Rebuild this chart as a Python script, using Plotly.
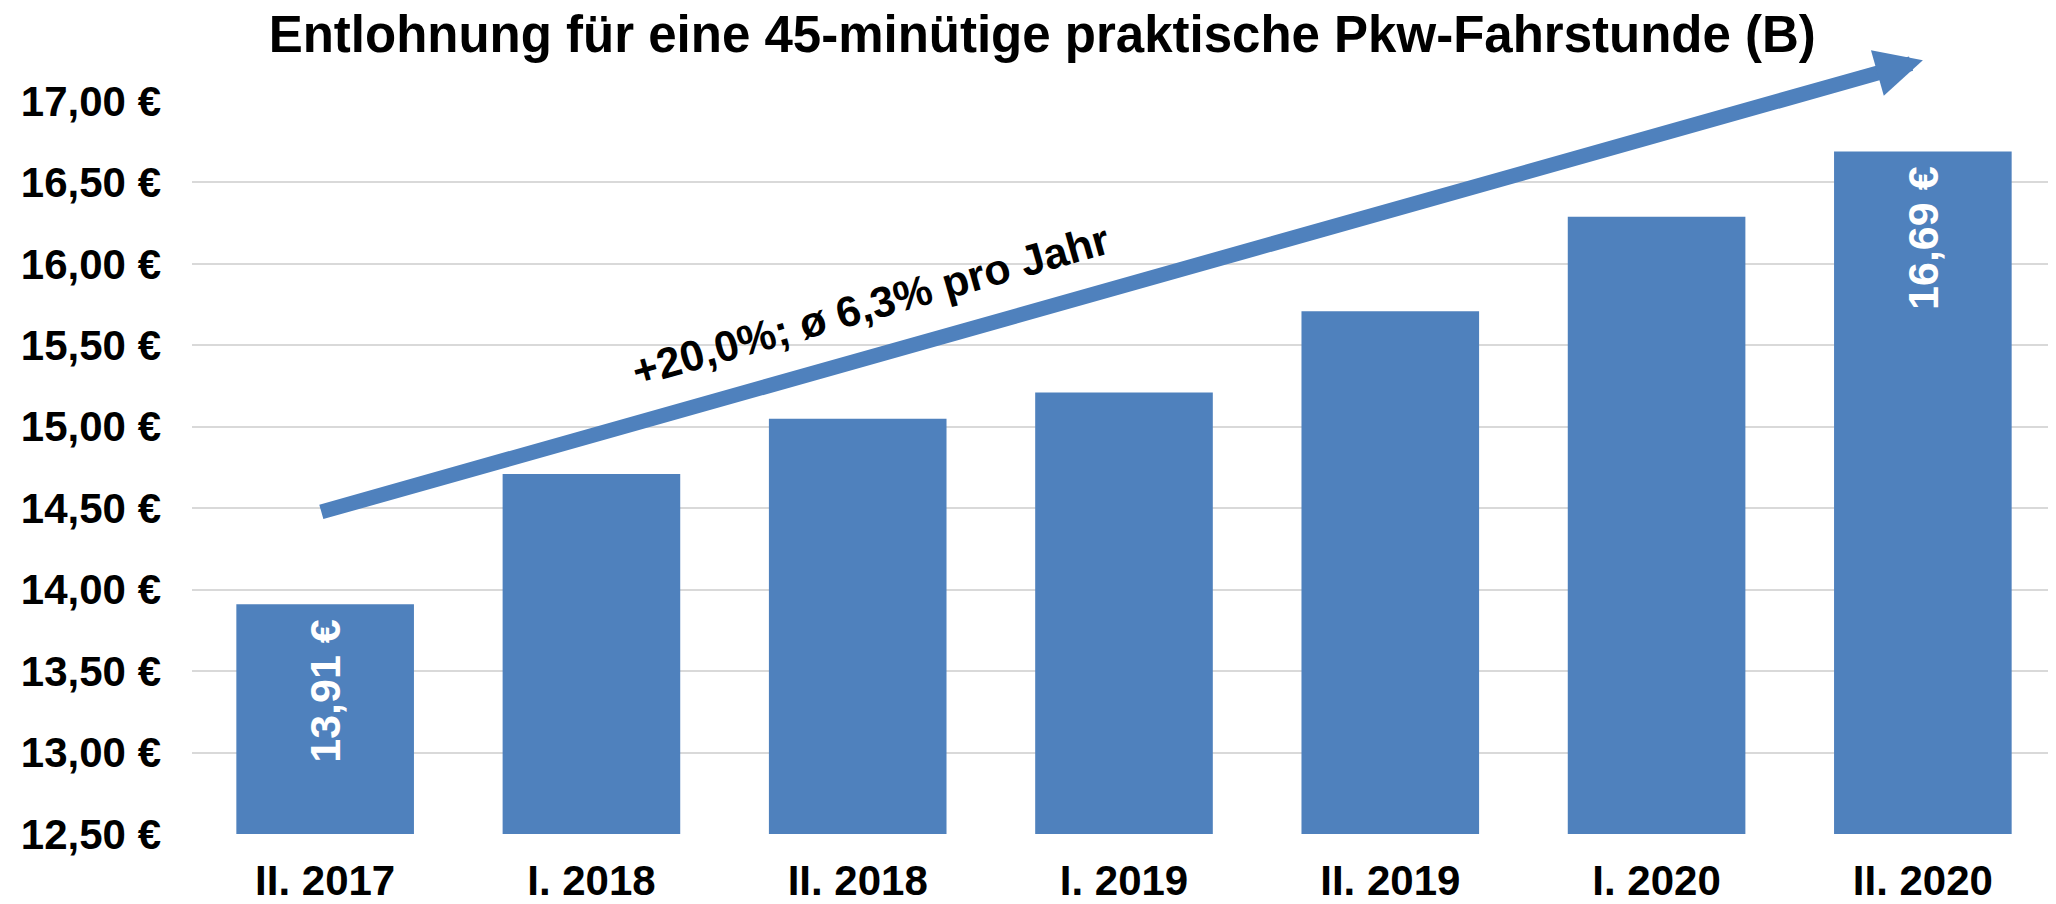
import plotly.graph_objects as go

categories = ["II. 2017", "I. 2018", "II. 2018", "I. 2019", "II. 2019", "I. 2020", "II. 2020"]
values = [13.91, 14.71, 15.05, 15.21, 15.71, 16.29, 16.69]
bar_labels = ["13,91 €", "", "", "", "", "", "16,69 €"]
y_ticks = [12.5, 13.0, 13.5, 14.0, 14.5, 15.0, 15.5, 16.0, 16.5, 17.0]
y_tick_labels = ["12,50 €", "13,00 €", "13,50 €", "14,00 €", "14,50 €",
                 "15,00 €", "15,50 €", "16,00 €", "16,50 €", "17,00 €"]
title_text = "Entlohnung für eine 45-minütige praktische Pkw-Fahrstunde (B)"
trend_text = "+20,0%; ø 6,3% pro Jahr"

FONT = "Liberation Sans, Arial, sans-serif"
BLUE = "#4F81BD"

W, H = 2048, 896  # page adds an 8px body margin

# small padding so the inside label sits a little below the bar top
padded_labels = [t + "\u00a0" if t else "" for t in bar_labels]

fig = go.Figure()
fig.add_trace(go.Bar(
    x=categories,
    y=values,
    marker=dict(color=BLUE, line=dict(width=0)),
    text=padded_labels,
    textposition="inside",
    insidetextanchor="end",
    textangle=-90,
    textfont=dict(family=FONT, size=43, color="white", weight="bold"),
    cliponaxis=False,
    hoverinfo="skip",
))

# trend arrow from first to last category
fig.add_annotation(
    x=6, y=17.25, xref="x", yref="y",
    ax=-0.02, ay=14.475, axref="x", ayref="y",
    showarrow=True, arrowhead=2, arrowsize=0.63, arrowwidth=15,
    arrowcolor=BLUE, text="", standoff=0, startstandoff=0,
)
fig.add_annotation(
    x=2.05, y=15.745, xref="x", yref="y",
    text=trend_text, showarrow=False, textangle=-15.8,
    font=dict(family=FONT, size=43, color="black", weight="bold"),
)

fig.update_layout(
    width=W, height=H,
    margin=dict(l=184, r=0, t=93, b=70, autoexpand=False),
    paper_bgcolor="white", plot_bgcolor="white",
    separators=",.",
    bargap=0.333,
    showlegend=False,
    title=dict(
        text=title_text, xref="container", x=0.505, xanchor="center",
        yref="container", y=1 - 26 / H, yanchor="middle",
        font=dict(family=FONT, size=51, color="black", weight="bold"),
    ),
    xaxis=dict(
        type="category", showgrid=False, showline=False, zeroline=False,
        ticks="", automargin=False,
        tickfont=dict(family=FONT, size=42, color="black", weight="bold"),
        ticklabelstandoff=18,
    ),
    yaxis=dict(
        range=[12.5, 17.0], tickvals=y_ticks, ticktext=y_tick_labels,
        showgrid=True, gridcolor="#D9D9D9", gridwidth=2, zeroline=False,
        showline=False, ticks="", automargin=False,
        tickfont=dict(family=FONT, size=42, color="black", weight="bold"),
        ticklabelstandoff=30,
    ),
)

fig.write_html("out.html")
